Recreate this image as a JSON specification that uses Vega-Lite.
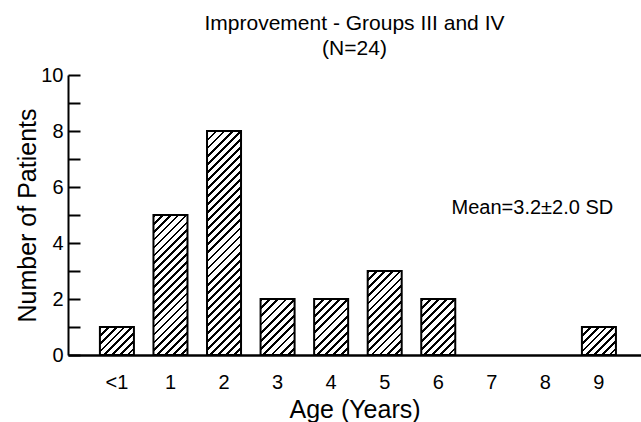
{
  "$schema": "https://vega.github.io/schema/vega-lite/v6.json",
  "width": 573,
  "height": 280,
  "autosize": {"type": "none"},
  "padding": {"left": 68, "top": 75, "right": 0, "bottom": 67},
  "background": "white",
  "config": {
    "view": {"stroke": null},
    "font": "Liberation Sans",
    "axis": {"labelFont": "Liberation Sans", "titleFont": "Liberation Sans", "labelColor": "black", "titleColor": "black", "domainColor": "black", "tickColor": "black", "grid": false, "titleFontWeight": "normal"},
    "title": {"font": "Liberation Sans", "fontWeight": "normal", "fontSize": 21, "lineHeight": 25, "color": "black", "anchor": "middle", "offset": 6}
  },
  "title": {"text": ["Improvement - Groups III and IV", "(N=24)"]},
  "data": {
    "values": [
      {"age": "<1", "n": 1},
      {"age": "1", "n": 5},
      {"age": "2", "n": 8},
      {"age": "3", "n": 2},
      {"age": "4", "n": 2},
      {"age": "5", "n": 3},
      {"age": "6", "n": 2},
      {"age": "7", "n": 0},
      {"age": "8", "n": 0},
      {"age": "9", "n": 1}
    ]
  },
  "encoding": {
    "x": {
      "field": "age", "type": "nominal", "sort": null,
      "scale": {"domain": ["<1", "1", "2", "3", "4", "5", "6", "7", "8", "9"], "paddingInner": 0.365, "paddingOuter": 0.532, "align": 0.56},
      "axis": {"title": "Age (Years)", "labelAngle": 0, "ticks": false, "domainWidth": 2.5, "labelFontSize": 20, "labelPadding": 17, "titleFontSize": 25, "titlePadding": 5}
    },
    "y": {
      "field": "n", "type": "quantitative",
      "scale": {"domain": [0, 10], "nice": false},
      "axis": {"title": "Number of Patients", "values": [0, 1, 2, 3, 4, 5, 6, 7, 8, 9, 10], "labelExpr": "datum.value % 2 == 0 ? datum.label : ''", "tickSize": -12, "tickWidth": 2, "domainWidth": 2, "labelFontSize": 20, "labelPadding": 17, "titleFontSize": 25, "titlePadding": 0}
    }
  },
  "layer": [
    {
      "transform": [{"filter": "datum.n == 1"}],
      "mark": {"type": "bar", "stroke": "black", "strokeWidth": 2, "fill": {"gradient": "linear", "x1": 0, "y1": 0, "x2": 1.0866, "y2": 0.8948, "stops": [
                {"offset": 0, "color": "#000"}, {"offset": 0.0437, "color": "#000"}, {"offset": 0.0437, "color": "#fff"}, {"offset": 0.125, "color": "#fff"},
                {"offset": 0.125, "color": "#000"}, {"offset": 0.1687, "color": "#000"}, {"offset": 0.1687, "color": "#fff"}, {"offset": 0.25, "color": "#fff"},
                {"offset": 0.25, "color": "#000"}, {"offset": 0.2937, "color": "#000"}, {"offset": 0.2937, "color": "#fff"}, {"offset": 0.375, "color": "#fff"},
                {"offset": 0.375, "color": "#000"}, {"offset": 0.4187, "color": "#000"}, {"offset": 0.4187, "color": "#fff"}, {"offset": 0.5, "color": "#fff"},
                {"offset": 0.5, "color": "#000"}, {"offset": 0.5437, "color": "#000"}, {"offset": 0.5437, "color": "#fff"}, {"offset": 0.625, "color": "#fff"},
                {"offset": 0.625, "color": "#000"}, {"offset": 0.6687, "color": "#000"}, {"offset": 0.6687, "color": "#fff"}, {"offset": 0.75, "color": "#fff"},
                {"offset": 0.75, "color": "#000"}, {"offset": 0.7937, "color": "#000"}, {"offset": 0.7937, "color": "#fff"}, {"offset": 0.875, "color": "#fff"},
                {"offset": 0.875, "color": "#000"}, {"offset": 0.9187, "color": "#000"}, {"offset": 0.9187, "color": "#fff"}, {"offset": 1, "color": "#fff"}
              ]}}
    },
    {
      "transform": [{"filter": "datum.n == 2"}],
      "mark": {"type": "bar", "stroke": "black", "strokeWidth": 2, "fill": {"gradient": "linear", "x1": 0, "y1": 0, "x2": 0.713, "y2": 1.174, "stops": [
                {"offset": 0, "color": "#000"}, {"offset": 0.0318, "color": "#000"}, {"offset": 0.0318, "color": "#fff"}, {"offset": 0.0909, "color": "#fff"},
                {"offset": 0.0909, "color": "#000"}, {"offset": 0.1227, "color": "#000"}, {"offset": 0.1227, "color": "#fff"}, {"offset": 0.1818, "color": "#fff"},
                {"offset": 0.1818, "color": "#000"}, {"offset": 0.2136, "color": "#000"}, {"offset": 0.2136, "color": "#fff"}, {"offset": 0.2727, "color": "#fff"},
                {"offset": 0.2727, "color": "#000"}, {"offset": 0.3045, "color": "#000"}, {"offset": 0.3045, "color": "#fff"}, {"offset": 0.3636, "color": "#fff"},
                {"offset": 0.3636, "color": "#000"}, {"offset": 0.3955, "color": "#000"}, {"offset": 0.3955, "color": "#fff"}, {"offset": 0.4545, "color": "#fff"},
                {"offset": 0.4545, "color": "#000"}, {"offset": 0.4864, "color": "#000"}, {"offset": 0.4864, "color": "#fff"}, {"offset": 0.5455, "color": "#fff"},
                {"offset": 0.5455, "color": "#000"}, {"offset": 0.5773, "color": "#000"}, {"offset": 0.5773, "color": "#fff"}, {"offset": 0.6364, "color": "#fff"},
                {"offset": 0.6364, "color": "#000"}, {"offset": 0.6682, "color": "#000"}, {"offset": 0.6682, "color": "#fff"}, {"offset": 0.7273, "color": "#fff"},
                {"offset": 0.7273, "color": "#000"}, {"offset": 0.7591, "color": "#000"}, {"offset": 0.7591, "color": "#fff"}, {"offset": 0.8182, "color": "#fff"},
                {"offset": 0.8182, "color": "#000"}, {"offset": 0.85, "color": "#000"}, {"offset": 0.85, "color": "#fff"}, {"offset": 0.9091, "color": "#fff"},
                {"offset": 0.9091, "color": "#000"}, {"offset": 0.9409, "color": "#000"}, {"offset": 0.9409, "color": "#fff"}, {"offset": 1, "color": "#fff"}
              ]}}
    },
    {
      "transform": [{"filter": "datum.n == 3"}],
      "mark": {"type": "bar", "stroke": "black", "strokeWidth": 2, "fill": {"gradient": "linear", "x1": 0, "y1": 0, "x2": 0.4886, "y2": 1.207, "stops": [
                {"offset": 0, "color": "#000"}, {"offset": 0.0233, "color": "#000"}, {"offset": 0.0233, "color": "#fff"}, {"offset": 0.0667, "color": "#fff"},
                {"offset": 0.0667, "color": "#000"}, {"offset": 0.09, "color": "#000"}, {"offset": 0.09, "color": "#fff"}, {"offset": 0.1333, "color": "#fff"},
                {"offset": 0.1333, "color": "#000"}, {"offset": 0.1567, "color": "#000"}, {"offset": 0.1567, "color": "#fff"}, {"offset": 0.2, "color": "#fff"},
                {"offset": 0.2, "color": "#000"}, {"offset": 0.2233, "color": "#000"}, {"offset": 0.2233, "color": "#fff"}, {"offset": 0.2667, "color": "#fff"},
                {"offset": 0.2667, "color": "#000"}, {"offset": 0.29, "color": "#000"}, {"offset": 0.29, "color": "#fff"}, {"offset": 0.3333, "color": "#fff"},
                {"offset": 0.3333, "color": "#000"}, {"offset": 0.3567, "color": "#000"}, {"offset": 0.3567, "color": "#fff"}, {"offset": 0.4, "color": "#fff"},
                {"offset": 0.4, "color": "#000"}, {"offset": 0.4233, "color": "#000"}, {"offset": 0.4233, "color": "#fff"}, {"offset": 0.4667, "color": "#fff"},
                {"offset": 0.4667, "color": "#000"}, {"offset": 0.49, "color": "#000"}, {"offset": 0.49, "color": "#fff"}, {"offset": 0.5333, "color": "#fff"},
                {"offset": 0.5333, "color": "#000"}, {"offset": 0.5567, "color": "#000"}, {"offset": 0.5567, "color": "#fff"}, {"offset": 0.6, "color": "#fff"},
                {"offset": 0.6, "color": "#000"}, {"offset": 0.6233, "color": "#000"}, {"offset": 0.6233, "color": "#fff"}, {"offset": 0.6667, "color": "#fff"},
                {"offset": 0.6667, "color": "#000"}, {"offset": 0.69, "color": "#000"}, {"offset": 0.69, "color": "#fff"}, {"offset": 0.7333, "color": "#fff"},
                {"offset": 0.7333, "color": "#000"}, {"offset": 0.7567, "color": "#000"}, {"offset": 0.7567, "color": "#fff"}, {"offset": 0.8, "color": "#fff"},
                {"offset": 0.8, "color": "#000"}, {"offset": 0.8233, "color": "#000"}, {"offset": 0.8233, "color": "#fff"}, {"offset": 0.8667, "color": "#fff"},
                {"offset": 0.8667, "color": "#000"}, {"offset": 0.89, "color": "#000"}, {"offset": 0.89, "color": "#fff"}, {"offset": 0.9333, "color": "#fff"},
                {"offset": 0.9333, "color": "#000"}, {"offset": 0.9567, "color": "#000"}, {"offset": 0.9567, "color": "#fff"}, {"offset": 1, "color": "#fff"}
              ]}}
    },
    {
      "transform": [{"filter": "datum.n == 5"}],
      "mark": {"type": "bar", "stroke": "black", "strokeWidth": 2, "fill": {"gradient": "linear", "x1": 0, "y1": 0, "x2": 0.285, "y2": 1.1736, "stops": [
                {"offset": 0, "color": "#000"}, {"offset": 0.0159, "color": "#000"}, {"offset": 0.0159, "color": "#fff"}, {"offset": 0.0455, "color": "#fff"},
                {"offset": 0.0455, "color": "#000"}, {"offset": 0.0614, "color": "#000"}, {"offset": 0.0614, "color": "#fff"}, {"offset": 0.0909, "color": "#fff"},
                {"offset": 0.0909, "color": "#000"}, {"offset": 0.1068, "color": "#000"}, {"offset": 0.1068, "color": "#fff"}, {"offset": 0.1364, "color": "#fff"},
                {"offset": 0.1364, "color": "#000"}, {"offset": 0.1523, "color": "#000"}, {"offset": 0.1523, "color": "#fff"}, {"offset": 0.1818, "color": "#fff"},
                {"offset": 0.1818, "color": "#000"}, {"offset": 0.1977, "color": "#000"}, {"offset": 0.1977, "color": "#fff"}, {"offset": 0.2273, "color": "#fff"},
                {"offset": 0.2273, "color": "#000"}, {"offset": 0.2432, "color": "#000"}, {"offset": 0.2432, "color": "#fff"}, {"offset": 0.2727, "color": "#fff"},
                {"offset": 0.2727, "color": "#000"}, {"offset": 0.2886, "color": "#000"}, {"offset": 0.2886, "color": "#fff"}, {"offset": 0.3182, "color": "#fff"},
                {"offset": 0.3182, "color": "#000"}, {"offset": 0.3341, "color": "#000"}, {"offset": 0.3341, "color": "#fff"}, {"offset": 0.3636, "color": "#fff"},
                {"offset": 0.3636, "color": "#000"}, {"offset": 0.3795, "color": "#000"}, {"offset": 0.3795, "color": "#fff"}, {"offset": 0.4091, "color": "#fff"},
                {"offset": 0.4091, "color": "#000"}, {"offset": 0.425, "color": "#000"}, {"offset": 0.425, "color": "#fff"}, {"offset": 0.4545, "color": "#fff"},
                {"offset": 0.4545, "color": "#000"}, {"offset": 0.4704, "color": "#000"}, {"offset": 0.4704, "color": "#fff"}, {"offset": 0.5, "color": "#fff"},
                {"offset": 0.5, "color": "#000"}, {"offset": 0.5159, "color": "#000"}, {"offset": 0.5159, "color": "#fff"}, {"offset": 0.5455, "color": "#fff"},
                {"offset": 0.5455, "color": "#000"}, {"offset": 0.5614, "color": "#000"}, {"offset": 0.5614, "color": "#fff"}, {"offset": 0.5909, "color": "#fff"},
                {"offset": 0.5909, "color": "#000"}, {"offset": 0.6068, "color": "#000"}, {"offset": 0.6068, "color": "#fff"}, {"offset": 0.6364, "color": "#fff"},
                {"offset": 0.6364, "color": "#000"}, {"offset": 0.6523, "color": "#000"}, {"offset": 0.6523, "color": "#fff"}, {"offset": 0.6818, "color": "#fff"},
                {"offset": 0.6818, "color": "#000"}, {"offset": 0.6977, "color": "#000"}, {"offset": 0.6977, "color": "#fff"}, {"offset": 0.7273, "color": "#fff"},
                {"offset": 0.7273, "color": "#000"}, {"offset": 0.7432, "color": "#000"}, {"offset": 0.7432, "color": "#fff"}, {"offset": 0.7727, "color": "#fff"},
                {"offset": 0.7727, "color": "#000"}, {"offset": 0.7886, "color": "#000"}, {"offset": 0.7886, "color": "#fff"}, {"offset": 0.8182, "color": "#fff"},
                {"offset": 0.8182, "color": "#000"}, {"offset": 0.8341, "color": "#000"}, {"offset": 0.8341, "color": "#fff"}, {"offset": 0.8636, "color": "#fff"},
                {"offset": 0.8636, "color": "#000"}, {"offset": 0.8795, "color": "#000"}, {"offset": 0.8795, "color": "#fff"}, {"offset": 0.9091, "color": "#fff"},
                {"offset": 0.9091, "color": "#000"}, {"offset": 0.925, "color": "#000"}, {"offset": 0.925, "color": "#fff"}, {"offset": 0.9545, "color": "#fff"},
                {"offset": 0.9545, "color": "#000"}, {"offset": 0.9704, "color": "#000"}, {"offset": 0.9704, "color": "#fff"}, {"offset": 1, "color": "#fff"}
              ]}}
    },
    {
      "transform": [{"filter": "datum.n == 8"}],
      "mark": {"type": "bar", "stroke": "black", "strokeWidth": 2, "fill": {"gradient": "linear", "x1": 0, "y1": 0, "x2": 0.1709, "y2": 1.1258, "stops": [
                {"offset": 0, "color": "#000"}, {"offset": 0.0109, "color": "#000"}, {"offset": 0.0109, "color": "#fff"}, {"offset": 0.0313, "color": "#fff"},
                {"offset": 0.0313, "color": "#000"}, {"offset": 0.0422, "color": "#000"}, {"offset": 0.0422, "color": "#fff"}, {"offset": 0.0625, "color": "#fff"},
                {"offset": 0.0625, "color": "#000"}, {"offset": 0.0734, "color": "#000"}, {"offset": 0.0734, "color": "#fff"}, {"offset": 0.0938, "color": "#fff"},
                {"offset": 0.0938, "color": "#000"}, {"offset": 0.1047, "color": "#000"}, {"offset": 0.1047, "color": "#fff"}, {"offset": 0.125, "color": "#fff"},
                {"offset": 0.125, "color": "#000"}, {"offset": 0.1359, "color": "#000"}, {"offset": 0.1359, "color": "#fff"}, {"offset": 0.1563, "color": "#fff"},
                {"offset": 0.1563, "color": "#000"}, {"offset": 0.1672, "color": "#000"}, {"offset": 0.1672, "color": "#fff"}, {"offset": 0.1875, "color": "#fff"},
                {"offset": 0.1875, "color": "#000"}, {"offset": 0.1984, "color": "#000"}, {"offset": 0.1984, "color": "#fff"}, {"offset": 0.2188, "color": "#fff"},
                {"offset": 0.2188, "color": "#000"}, {"offset": 0.2297, "color": "#000"}, {"offset": 0.2297, "color": "#fff"}, {"offset": 0.25, "color": "#fff"},
                {"offset": 0.25, "color": "#000"}, {"offset": 0.2609, "color": "#000"}, {"offset": 0.2609, "color": "#fff"}, {"offset": 0.2813, "color": "#fff"},
                {"offset": 0.2813, "color": "#000"}, {"offset": 0.2922, "color": "#000"}, {"offset": 0.2922, "color": "#fff"}, {"offset": 0.3125, "color": "#fff"},
                {"offset": 0.3125, "color": "#000"}, {"offset": 0.3234, "color": "#000"}, {"offset": 0.3234, "color": "#fff"}, {"offset": 0.3438, "color": "#fff"},
                {"offset": 0.3438, "color": "#000"}, {"offset": 0.3547, "color": "#000"}, {"offset": 0.3547, "color": "#fff"}, {"offset": 0.375, "color": "#fff"},
                {"offset": 0.375, "color": "#000"}, {"offset": 0.3859, "color": "#000"}, {"offset": 0.3859, "color": "#fff"}, {"offset": 0.4063, "color": "#fff"},
                {"offset": 0.4063, "color": "#000"}, {"offset": 0.4172, "color": "#000"}, {"offset": 0.4172, "color": "#fff"}, {"offset": 0.4375, "color": "#fff"},
                {"offset": 0.4375, "color": "#000"}, {"offset": 0.4484, "color": "#000"}, {"offset": 0.4484, "color": "#fff"}, {"offset": 0.4688, "color": "#fff"},
                {"offset": 0.4688, "color": "#000"}, {"offset": 0.4797, "color": "#000"}, {"offset": 0.4797, "color": "#fff"}, {"offset": 0.5, "color": "#fff"},
                {"offset": 0.5, "color": "#000"}, {"offset": 0.5109, "color": "#000"}, {"offset": 0.5109, "color": "#fff"}, {"offset": 0.5313, "color": "#fff"},
                {"offset": 0.5313, "color": "#000"}, {"offset": 0.5422, "color": "#000"}, {"offset": 0.5422, "color": "#fff"}, {"offset": 0.5625, "color": "#fff"},
                {"offset": 0.5625, "color": "#000"}, {"offset": 0.5734, "color": "#000"}, {"offset": 0.5734, "color": "#fff"}, {"offset": 0.5938, "color": "#fff"},
                {"offset": 0.5938, "color": "#000"}, {"offset": 0.6047, "color": "#000"}, {"offset": 0.6047, "color": "#fff"}, {"offset": 0.625, "color": "#fff"},
                {"offset": 0.625, "color": "#000"}, {"offset": 0.6359, "color": "#000"}, {"offset": 0.6359, "color": "#fff"}, {"offset": 0.6563, "color": "#fff"},
                {"offset": 0.6563, "color": "#000"}, {"offset": 0.6672, "color": "#000"}, {"offset": 0.6672, "color": "#fff"}, {"offset": 0.6875, "color": "#fff"},
                {"offset": 0.6875, "color": "#000"}, {"offset": 0.6984, "color": "#000"}, {"offset": 0.6984, "color": "#fff"}, {"offset": 0.7188, "color": "#fff"},
                {"offset": 0.7188, "color": "#000"}, {"offset": 0.7297, "color": "#000"}, {"offset": 0.7297, "color": "#fff"}, {"offset": 0.75, "color": "#fff"},
                {"offset": 0.75, "color": "#000"}, {"offset": 0.7609, "color": "#000"}, {"offset": 0.7609, "color": "#fff"}, {"offset": 0.7813, "color": "#fff"},
                {"offset": 0.7813, "color": "#000"}, {"offset": 0.7922, "color": "#000"}, {"offset": 0.7922, "color": "#fff"}, {"offset": 0.8125, "color": "#fff"},
                {"offset": 0.8125, "color": "#000"}, {"offset": 0.8234, "color": "#000"}, {"offset": 0.8234, "color": "#fff"}, {"offset": 0.8438, "color": "#fff"},
                {"offset": 0.8438, "color": "#000"}, {"offset": 0.8547, "color": "#000"}, {"offset": 0.8547, "color": "#fff"}, {"offset": 0.875, "color": "#fff"},
                {"offset": 0.875, "color": "#000"}, {"offset": 0.8859, "color": "#000"}, {"offset": 0.8859, "color": "#fff"}, {"offset": 0.9063, "color": "#fff"},
                {"offset": 0.9063, "color": "#000"}, {"offset": 0.9172, "color": "#000"}, {"offset": 0.9172, "color": "#fff"}, {"offset": 0.9375, "color": "#fff"},
                {"offset": 0.9375, "color": "#000"}, {"offset": 0.9484, "color": "#000"}, {"offset": 0.9484, "color": "#fff"}, {"offset": 0.9688, "color": "#fff"},
                {"offset": 0.9688, "color": "#000"}, {"offset": 0.9797, "color": "#000"}, {"offset": 0.9797, "color": "#fff"}, {"offset": 1, "color": "#fff"}
              ]}}
    },
    {
      "data": {"values": [{"age": "8", "n": 5.25, "label": "Mean=3.2±2.0 SD"}]},
      "mark": {"type": "text", "fontSize": 20, "font": "Liberation Sans", "color": "black", "align": "center", "baseline": "middle", "dx": -13},
      "encoding": {
        "text": {"field": "label", "type": "nominal"}
      }
    }
  ]
}
